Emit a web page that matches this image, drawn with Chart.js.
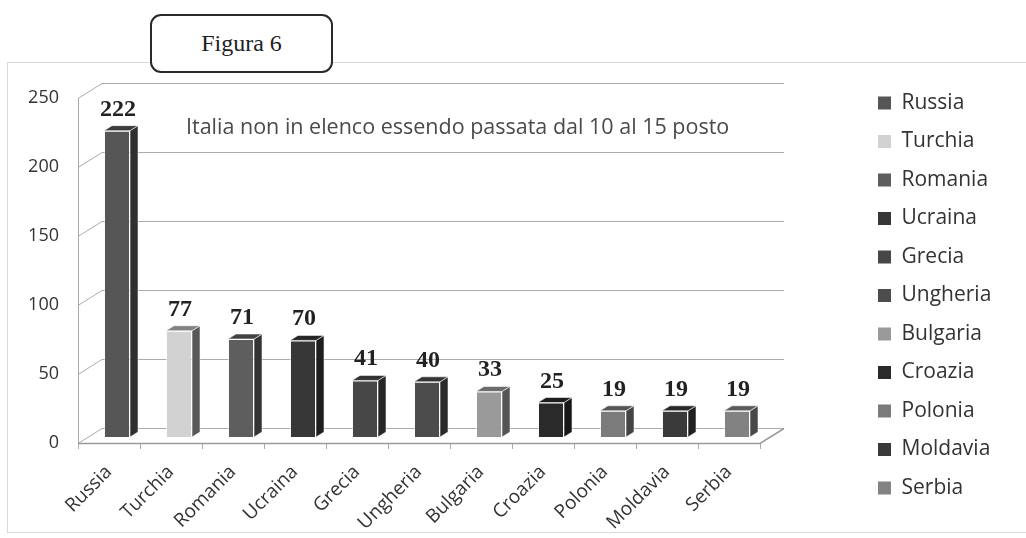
<!DOCTYPE html>
<html><head><meta charset="utf-8">
<style>
html,body{margin:0;padding:0;background:#fff;}
#wrap{position:relative;width:1026px;height:538px;overflow:hidden;}
#frame{position:absolute;left:7px;top:62px;width:1040px;height:469px;border:1px solid #d9d9d9;}
canvas{position:absolute;left:0;top:0;}
#fig{position:absolute;left:150px;top:14px;width:179px;height:55px;border:2px solid #2a2a2a;border-radius:11px;background:#fff;font-family:"Liberation Serif","Times New Roman",serif;font-size:24px;color:#222;display:flex;align-items:center;justify-content:center;}
</style>
<script src="https://cdn.jsdelivr.net/npm/chart.js"></script>
</head><body>
<div id="wrap"><div id="frame"></div><canvas id="c" width="1026" height="538"></canvas><div id="fig"></div></div>
<script>
const figureTitle = 'Figura 6';
const note = 'Italia non in elenco essendo passata dal 10 al 15 posto';
const categories = ['Russia','Turchia','Romania','Ucraina','Grecia','Ungheria','Bulgaria','Croazia','Polonia','Moldavia','Serbia'];
const values = [222, 77, 71, 70, 41, 40, 33, 25, 19, 19, 19];
const barColors = ['#565656','#d2d2d2','#5e5e5e','#373737','#474747','#4c4c4c','#9a9a9a','#2a2a2a','#7b7b7b','#3a3a3a','#828282'];
const yTicks = [0, 50, 100, 150, 200, 250];

document.getElementById('fig').textContent = figureTitle;

const SANS = '"Open Sans", "DejaVu Sans", sans-serif';
const LEG_FONT = 21, LEG_PAD = 17.5, LEG_BOX = 13;
const DEPTH_X = 24, DEPTH_Y = 15;   // wall depth
const BAR_DX = 8, BAR_DY = 5;       // bar depth
const BAR_SHIFT_X = 8, BAR_SHIFT_Y = -6;

// measure legend text to place the legend
const mctx = document.createElement('canvas').getContext('2d');
mctx.font = LEG_FONT + 'px ' + SANS;
const maxText = Math.max(...categories.map(c => mctx.measureText(c).width));
const legendLeft = 860.5;
const legendWidth = LEG_PAD + LEG_BOX + LEG_FONT / 2 + maxText + 10;
const rightPad = Math.max(0, 1026 - legendLeft - legendWidth);

function shade(hex, f) {
  const n = parseInt(hex.slice(1), 16);
  const r = Math.round(((n >> 16) & 255) * f), g = Math.round(((n >> 8) & 255) * f), b = Math.round((n & 255) * f);
  return 'rgb(' + r + ',' + g + ',' + b + ')';
}

const wallPlugin = {
  id: 'walls',
  beforeDatasetsDraw(chart) {
    const {ctx, chartArea: a, scales: {y}} = chart;
    ctx.save();
    ctx.strokeStyle = '#ababab';
    ctx.lineWidth = 1;
    yTicks.forEach(v => {
      const py = Math.round(y.getPixelForValue(v)) + 0.5;
      ctx.beginPath();
      ctx.moveTo(a.left, py);
      ctx.lineTo(a.left + DEPTH_X, py - DEPTH_Y);
      ctx.lineTo(a.right + DEPTH_X, py - DEPTH_Y);
      ctx.stroke();
    });
    const y0 = Math.round(y.getPixelForValue(0)) + 0.5;
    ctx.strokeStyle = '#9a9a9a';
    ctx.lineWidth = 1.5;
    ctx.beginPath();
    ctx.moveTo(a.left, y0);
    ctx.lineTo(a.right, y0);
    ctx.lineTo(a.right + DEPTH_X, y0 - DEPTH_Y);
    ctx.stroke();
    // note text
    ctx.fillStyle = '#4a4a4a';
    ctx.font = '21.5px ' + SANS;
    ctx.textBaseline = 'middle';
    ctx.textAlign = 'left';
    ctx.fillText(note, a.left + 108, a.top + 30);
    ctx.restore();
    ctx.save();
    ctx.translate(BAR_SHIFT_X, BAR_SHIFT_Y);
  },
  afterDatasetsDraw(chart) {
    const {ctx} = chart;
    const meta = chart.getDatasetMeta(0);
    meta.data.forEach((bar, i) => {
      const {x, y, base, width} = bar.getProps(['x', 'y', 'base', 'width'], true);
      const l = x - width / 2, r = x + width / 2;
      ctx.lineWidth = 1;
      ctx.strokeStyle = 'rgba(255,255,255,0.55)';
      // side
      ctx.beginPath();
      ctx.moveTo(r, y); ctx.lineTo(r + BAR_DX, y - BAR_DY); ctx.lineTo(r + BAR_DX, base - BAR_DY); ctx.lineTo(r, base); ctx.closePath();
      ctx.fillStyle = shade(barColors[i], i === 1 ? 0.42 : 0.55);
      ctx.fill(); ctx.stroke();
      // top
      ctx.beginPath();
      ctx.moveTo(l, y); ctx.lineTo(l + BAR_DX, y - BAR_DY); ctx.lineTo(r + BAR_DX, y - BAR_DY); ctx.lineTo(r, y); ctx.closePath();
      ctx.fillStyle = shade(barColors[i], i === 1 ? 0.62 : 0.7);
      ctx.fill(); ctx.stroke();
      // value label
      ctx.fillStyle = '#222';
      ctx.font = 'bold 24px "Liberation Serif", "Times New Roman", serif';
      ctx.textAlign = 'center';
      ctx.textBaseline = 'alphabetic';
      ctx.fillText(String(values[i]), x + 1, y - 15);
    });
    ctx.restore();
  }
};

new Chart(document.getElementById('c'), {
  type: 'bar',
  data: {
    labels: categories,
    datasets: [{
      data: values,
      backgroundColor: barColors,
      borderColor: 'rgba(255,255,255,0.55)',
      borderWidth: 1,
      barPercentage: 0.42,
      categoryPercentage: 1,
      clip: false
    }]
  },
  options: {
    responsive: false,
    animation: false,
    devicePixelRatio: 1,
    layout: {padding: {top: 53, left: 0, right: rightPad, bottom: 0}},
    plugins: {
      title: {display: true, text: ' ', color: 'rgba(0,0,0,0)', font: {size: 45, lineHeight: 1}, padding: 0},
      tooltip: {enabled: false},
      legend: {
        position: 'right',
        align: 'center',
        onClick: null,
        labels: {
          boxWidth: LEG_BOX, boxHeight: LEG_BOX, padding: LEG_PAD,
          color: '#333',
          font: {family: SANS, size: LEG_FONT},
          generateLabels: () => categories.map((c, i) => ({
            text: c, fillStyle: barColors[i], strokeStyle: barColors[i], lineWidth: 0, hidden: false, index: i, fontColor: '#333'
          }))
        }
      }
    },
    scales: {
      x: {
        offset: true,
        grid: {display: true, drawOnChartArea: false, drawTicks: true, tickLength: 6, color: '#aaa', offset: true},
        border: {display: false},
        ticks: {minRotation: 45, maxRotation: 45, padding: 12, color: '#333', font: {family: SANS, size: 19}},
        afterFit: s => { s.height = 95; }
      },
      y: {
        min: 0, max: 250,
        afterBuildTicks: s => { s.ticks = yTicks.map(v => ({value: v})); },
        grid: {display: false, drawTicks: false},
        border: {display: true, color: '#a8a8a8', width: 1},
        ticks: {padding: 19, color: '#333', font: {family: SANS, size: 18}},
        afterFit: s => { s.width = 78; }
      },
      y2: {
        type: 'linear', position: 'right', display: true,
        grid: {display: false, drawTicks: false},
        border: {display: false},
        ticks: {display: false},
        afterFit: s => { s.width = 100.5; }
      }
    }
  },
  plugins: [wallPlugin]
});
</script>
</body></html>
